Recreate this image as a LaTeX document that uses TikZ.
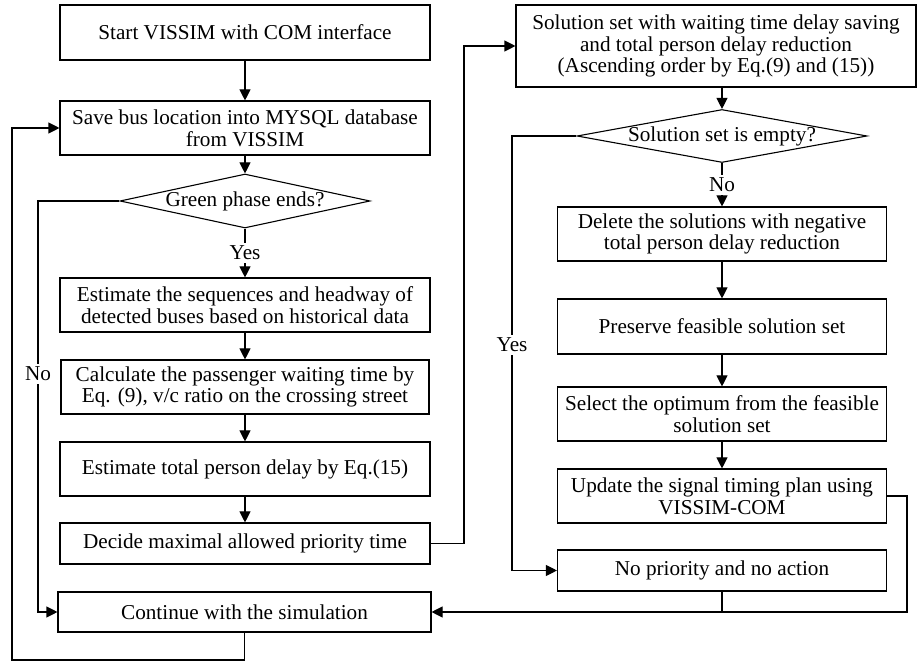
\documentclass[tikz,border=0pt]{standalone}
\usepackage{fontspec}
\setmainfont{Liberation Serif}
\usetikzlibrary{arrows.meta,shapes.geometric}
\tikzset{
  block/.style={draw, line width=0.55pt, align=center, inner sep=2pt, minimum width=185pt, minimum height=27pt},
  rblock/.style={block, minimum width=164.5pt},
  decision/.style={draw, diamond, line width=0.55pt, inner sep=0pt},
  lbl/.style={fill=white, inner sep=1.5pt},
  arr/.style={-{Triangle[length=5.5pt,width=5.5pt]}, line width=0.55pt},
}

\begin{document}
\begin{tikzpicture}[x=0.5pt, y=-0.5pt, font=\fontsize{10.6}{10.9}\selectfont]
\useasboundingbox (0,0) rectangle (917,662);
% left column
\node[block, minimum height=27.5pt] (start) at (245,32.5) {Start VISSIM with COM interface};
\node[block] (save) at (245,128) {Save bus location into MYSQL database\\from VISSIM};
\node[decision, minimum width=125pt, minimum height=27pt] (green) at (245,201) {\makebox[0pt]{Green phase ends?}};
\node[block] (seq) at (245,305) {Estimate the sequences and headway of\\detected buses based on historical data};
\node[block, minimum width=184pt] (wait) at (245,387) {Calculate the passenger waiting time by\\Eq. (9), v/c ratio on the crossing street};
\node[block] (delay) at (245,469) {Estimate total person delay by Eq.(15)};
\node[block, minimum height=20.5pt] (maxprio) at (245,543.5) {Decide maximal allowed priority time};
\node[block, minimum width=186.5pt, minimum height=20pt] (cont) at (244.5,612) {Continue with the simulation};
% right column
\node[block, minimum width=200pt, minimum height=41pt] (solset) at (716,46) {Solution set with waiting time delay saving\\and total person delay reduction\\(Ascending order by Eq.(9) and (15))};
\node[decision, minimum width=145pt, minimum height=26.5pt] (empty) at (722,136) {\makebox[0pt]{Solution set is empty?}};
\node[rblock] (negdel) at (722,234) {Delete the solutions with negative\\total person delay reduction};
\node[rblock, minimum height=27.5pt] (feas) at (722,326.5) {Preserve feasible solution set};
\node[rblock] (optim) at (722,414) {Select the optimum from the feasible\\solution set};
\node[rblock] (update) at (722,496) {Update the signal timing plan using\\VISSIM-COM};
\node[rblock, minimum height=20.5pt] (noprio) at (722,570.5) {No priority and no action};

\coordinate (nobend) at (38,201);
\coordinate (loopbend) at (12,660);
\coordinate (bridge) at (464,543.5);
\coordinate (yesbend) at (512,136);
\coordinate (rbend) at (907,496);
\coordinate (merge) at (noprio.south |- cont.east);

\path[arr]
(start) edge (save)
(save) edge (green)
(green) edge node[lbl] {Yes} (seq)
(seq) edge (wait)
(wait) edge (delay)
(delay) edge (maxprio)
(empty) edge node[lbl] {No} (negdel)
(negdel) edge (feas)
(feas) edge (optim)
(optim) edge (update)
;
\draw[arr] (green.west) -- (nobend) |- node[lbl, pos=0.21] {No} (cont.west);
\draw[arr] (cont.south) |- (loopbend) |- (save.west);
\draw[arr] (maxprio.east) -- (bridge) |- (solset.west);
\draw[arr] (solset.south -| empty.north) -- (empty.north);
\draw[arr] (empty.west) -- (yesbend) |- node[lbl, pos=0.24] {Yes} (noprio.west);
\draw[arr] (noprio.south) |- (cont.east);
\draw[line width=0.55pt] (update.east) -- (rbend) |- (merge);
\end{tikzpicture}
\end{document}
